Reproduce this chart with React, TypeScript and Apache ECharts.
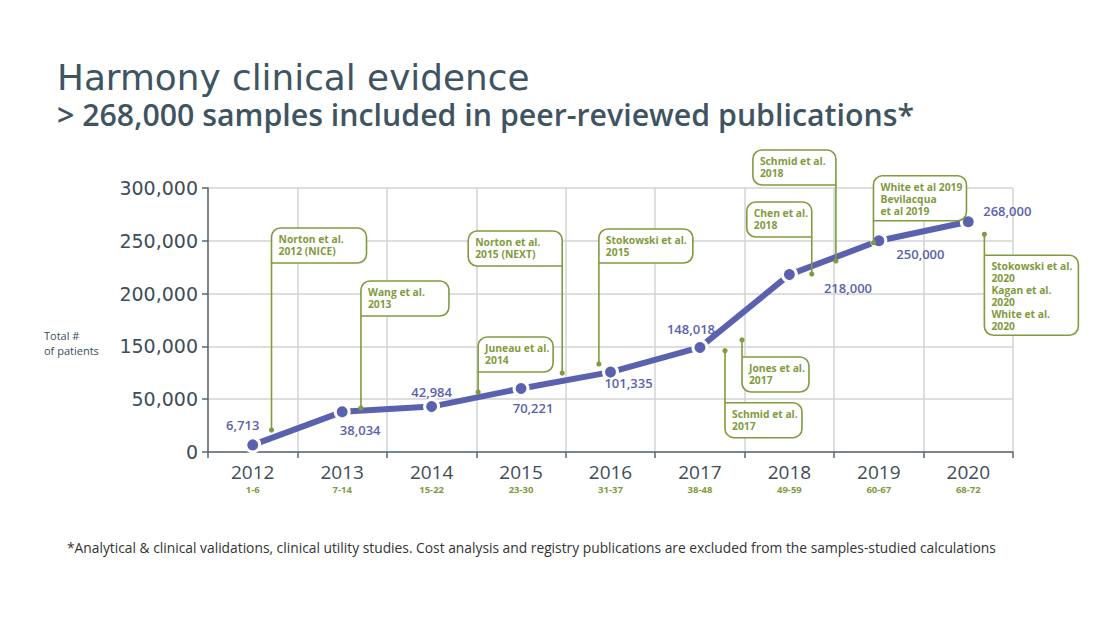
import React, { useEffect, useRef } from "react";
import * as echarts from "echarts";

// ---------- data ----------
const years = ["2012", "2013", "2014", "2015", "2016", "2017", "2018", "2019", "2020"];
const refRanges = ["1-6", "7-14", "15-22", "23-30", "31-37", "38-48", "49-59", "60-67", "68-72"];
const totalPatients = [6713, 38034, 42984, 70221, 101335, 148018, 218000, 250000, 268000];
const yTickLabels = ["0", "50,000", "150,000", "200,000", "250,000", "300,000"];

const titleText = "Harmony clinical evidence";
const subtitleText = "> 268,000 samples included in peer-reviewed publications*";
const yAxisTitle = "Total #\nof patients";
const footnoteText =
  "*Analytical & clinical validations, clinical utility studies. Cost analysis and registry publications are excluded from the samples-studied calculations";

// publication callouts: text and anchor (category position, patients)
const publicationTexts = [
  "Norton et al.\n2012 (NICE)",
  "Wang et al.\n2013",
  "Norton et al.\n2015 (NEXT)",
  "Juneau et al.\n2014",
  "Stokowski et al.\n2015",
  "Schmid et al.\n2018",
  "Chen et al.\n2018",
  "Jones et al.\n2017",
  "Schmid et al.\n2017",
  "White et al 2019\nBevilacqua\net al 2019",
  "Stokowski et al.\n2020\nKagan et al.\n2020\nWhite et al.\n2020",
];
const publicationAnchorPos = [0.21, 1.21, 3.46, 2.52, 3.87, 6.52, 6.25, 5.47, 5.28, 6.94, 8.18];
const publicationAnchorValue = [20800, 41700, 99600, 63600, 116700, 230900, 218600, 156100, 141900, 248200, 256200];

// ---------- layout / style ----------
const GREEN = "#7f9b3e";
const BLUE = "#5a62b0";
const SLATE = "#3d4d59";
const TITLE = "#3f5462";
const FONT = '"Open Sans", "Noto Sans", sans-serif';
const WIDE = '"DejaVu Sans", "Open Sans", sans-serif';

const calloutLayout = [
  { side: "left", dir: "up", gap: 167, w: 95, h: 35 },
  { side: "left", dir: "up", gap: 92, w: 88, h: 35 },
  { side: "right", dir: "up", gap: 107, w: 94, h: 35 },
  { side: "left", dir: "up", gap: 20, w: 75, h: 35 },
  { side: "left", dir: "up", gap: 101, w: 94, h: 34 },
  { side: "right", dir: "up", gap: 76, w: 83, h: 35 },
  { side: "right", dir: "up", gap: 37, w: 65, h: 35 },
  { side: "left", dir: "down", gap: 17, w: 67, h: 35 },
  { side: "left", dir: "down", gap: 52, w: 77, h: 35 },
  { side: "left", dir: "up", gap: 22, w: 93, h: 45 },
  { side: "left", dir: "down", gap: 21, w: 94, h: 80 },
];

const labelPlacement: { pos: string; offset: number[] }[] = [
  { pos: "top", offset: [-10, 0] },
  { pos: "bottom", offset: [18, -2] },
  { pos: "top", offset: [0, 5] },
  { pos: "bottom", offset: [12, -1] },
  { pos: "bottom", offset: [18, -9] },
  { pos: "top", offset: [-9, 2] },
  { pos: "right", offset: [21, 13] },
  { pos: "right", offset: [4, 13] },
  { pos: "top", offset: [39, 9] },
];

// the reference axis skips 100,000: 50k->150k is squeezed into one grid step
const toAxis = (v: number) => (v <= 50000 ? v : v <= 150000 ? 50000 + (v - 50000) / 2 : v - 50000);

const fmt = (v: number) => v.toLocaleString("en-US");

export default function App() {
  const ref = useRef<HTMLDivElement>(null);

  useEffect(() => {
    if (!ref.current) return;
    const chart = echarts.init(ref.current, null, { renderer: "svg" });

    const option: any = {
      animation: false,
      backgroundColor: "#ffffff",
      grid: { left: 208, right: 87, top: 188, bottom: 167, containLabel: false },
      xAxis: {
        type: "category",
        data: years,
        boundaryGap: true,
        axisLine: { lineStyle: { color: "#5d6770", width: 1.5 } },
        axisTick: { show: true, length: 6, lineStyle: { color: "#5d6770", width: 1.5 } },
        splitLine: { show: true, lineStyle: { color: "#d3d3d3", width: 1.5 } },
        axisLabel: {
          margin: 8,
          formatter: (v: string, i: number) => `{y|${v}}\n{r|${refRanges[i]}}`,
          rich: {
            y: { fontFamily: FONT, fontSize: 19, color: SLATE, lineHeight: 23 },
            r: { fontFamily: FONT, fontSize: 9.5, fontWeight: "bold", color: GREEN, lineHeight: 13 },
          },
        },
      },
      yAxis: {
        type: "value",
        min: 0,
        max: 250000,
        interval: 50000,
        axisLine: { show: true, lineStyle: { color: "#5d6770", width: 1.5 } },
        axisTick: { show: true, length: 6, lineStyle: { color: "#5d6770", width: 1.5 } },
        splitLine: { show: true, lineStyle: { color: "#d3d3d3", width: 1.5 } },
        axisLabel: {
          margin: 10,
          fontFamily: WIDE,
          fontSize: 19,
          color: SLATE,
          formatter: (_v: number, i: number) => yTickLabels[i],
        },
      },
      series: [
        {
          type: "line",
          data: totalPatients.map((v, i) => ({
            value: toAxis(v),
            label: { position: labelPlacement[i].pos, offset: labelPlacement[i].offset },
          })),
          symbol: "circle",
          symbolSize: 14,
          showSymbol: true,
          lineStyle: { color: BLUE, width: 6 },
          itemStyle: { color: BLUE, borderColor: "#ffffff", borderWidth: 3 },
          label: {
            show: true,
            fontFamily: FONT,
            fontSize: 13,
            fontWeight: 600,
            color: BLUE,
            formatter: (p: any) => fmt(totalPatients[p.dataIndex]),
          },
          z: 3,
        },
      ],
    };
    chart.setOption(option);

    const x0 = chart.convertToPixel({ xAxisIndex: 0 }, years[0]) as number;
    const x1 = chart.convertToPixel({ xAxisIndex: 0 }, years[1]) as number;
    const xAt = (idx: number) => x0 + idx * (x1 - x0);
    const yAt = (v: number) => chart.convertToPixel({ yAxisIndex: 0 }, toAxis(v)) as number;

    const graphic: any[] = [
      {
        type: "text",
        x: 57,
        y: 77,
        style: { text: titleText, fontFamily: WIDE, fontSize: 35.8, fill: TITLE, verticalAlign: "middle" },
      },
      {
        type: "text",
        x: 57,
        y: 114,
        style: {
          text: subtitleText,
          fontFamily: FONT,
          fontSize: 30.3,
          fontWeight: 600,
          fill: TITLE,
          verticalAlign: "middle",
        },
      },
      {
        type: "text",
        x: 44,
        y: 343,
        style: {
          text: yAxisTitle,
          fontFamily: FONT,
          fontSize: 11,
          lineHeight: 15,
          fill: SLATE,
          verticalAlign: "middle",
        },
      },
      {
        type: "text",
        x: 67,
        y: 547,
        style: { text: footnoteText, fontFamily: FONT, fontSize: 13.8, fill: "#333333", verticalAlign: "middle" },
      },
    ];

    publicationTexts.forEach((txt, i) => {
      const L = calloutLayout[i];
      const ax = xAt(publicationAnchorPos[i]);
      const ay = yAt(publicationAnchorValue[i]);
      const bx = L.side === "left" ? ax : ax - L.w;
      const by = L.dir === "up" ? ay - L.gap - L.h : ay + L.gap;
      const edgeY = L.dir === "up" ? by + L.h : by;
      const R = 9;
      // r: [tl, tr, br, bl]
      let r = [R, R, R, R];
      if (L.dir === "up" && L.side === "left") r = [R, R, R, 0];
      if (L.dir === "up" && L.side === "right") r = [R, R, 0, R];
      if (L.dir === "down" && L.side === "left") r = [0, R, R, R];
      if (L.dir === "down" && L.side === "right") r = [R, 0, R, R];
      graphic.push(
        {
          type: "line",
          silent: true,
          z: 10,
          shape: { x1: ax, y1: ay, x2: ax, y2: edgeY },
          style: { stroke: GREEN, lineWidth: 1.6 },
        },
        {
          type: "circle",
          silent: true,
          z: 10,
          shape: { cx: ax, cy: ay, r: 2.6 },
          style: { fill: GREEN },
        },
        {
          type: "rect",
          silent: true,
          z: 10,
          shape: { x: bx, y: by, width: L.w, height: L.h, r },
          style: { fill: "#ffffff", stroke: GREEN, lineWidth: 1.6 },
        },
        {
          type: "text",
          silent: true,
          z: 11,
          x: bx + 7,
          y: by + 5,
          style: {
            text: txt,
            fontFamily: FONT,
            fontSize: 10.3,
            fontWeight: "bold",
            lineHeight: 12,
            fill: GREEN,
          },
        }
      );
    });

    chart.setOption({ graphic });

    return () => chart.dispose();
  }, []);

  return (
    <div
      ref={ref}
      style={{ position: "fixed", left: 0, top: 0, width: 1100, height: 619, background: "#fff" }}
    />
  );
}
